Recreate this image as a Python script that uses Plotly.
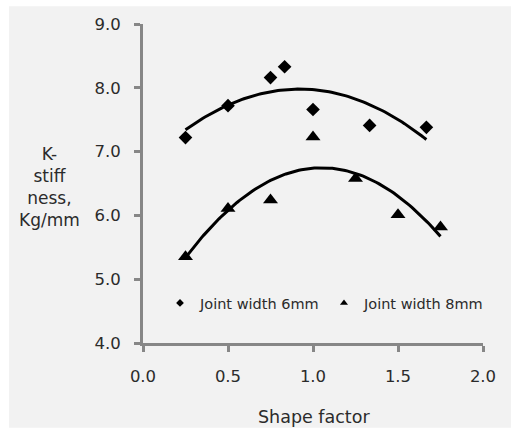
import numpy as np
import plotly.graph_objects as go

# Data
x_6mm = [0.25, 0.5, 0.75, 0.833, 1.0, 1.333, 1.667]
y_6mm = [7.22, 7.72, 8.16, 8.33, 7.66, 7.41, 7.38]
x_8mm = [0.25, 0.5, 0.75, 1.0, 1.25, 1.5, 1.75]
y_8mm = [5.35, 6.11, 6.24, 7.23, 6.58, 6.01, 5.82]
x_ticks = [0.0, 0.5, 1.0, 1.5, 2.0]
y_ticks = [4.0, 5.0, 6.0, 7.0, 8.0, 9.0]
series_names = ["Joint width 6mm", "Joint width 8mm"]

BG = "#f2f2f2"
AX = "#878787"
TXT = "#2b2b2b"
FONT = "DejaVu Sans"

fig = go.Figure()

# polynomial (order 2) trendlines, like the spreadsheet trendlines
for xs, ys in [(x_6mm, y_6mm), (x_8mm, y_8mm)]:
    c = np.polyfit(xs, ys, 2)
    xf = np.linspace(min(xs), max(xs), 100)
    fig.add_trace(go.Scatter(x=xf, y=np.polyval(c, xf), mode="lines",
                             line=dict(color="black", width=3), showlegend=False,
                             hoverinfo="skip"))

fig.add_trace(go.Scatter(x=x_6mm, y=y_6mm, mode="markers", showlegend=False,
                         marker=dict(symbol="diamond", size=10.5, color="black")))
fig.add_trace(go.Scatter(x=x_8mm, y=y_8mm, mode="markers", showlegend=False,
                         marker=dict(symbol="triangle-up", size=13, color="black")))

# legend entries with small markers
fig.add_trace(go.Scatter(x=[None], y=[None], mode="markers", name=series_names[0],
                         legend="legend",
                         marker=dict(symbol="diamond", size=6, color="black")))
fig.add_trace(go.Scatter(x=[None], y=[None], mode="markers", name=series_names[1],
                         legend="legend2",
                         marker=dict(symbol="triangle-up", size=7, color="black")))

leg = dict(yanchor="middle", xanchor="left", bgcolor="rgba(0,0,0,0)",
           font=dict(size=14.5, family=FONT, color=TXT), itemwidth=30)
fig.update_layout(
    width=511, height=430,
    margin=dict(l=143, r=28, t=24, b=87),
    paper_bgcolor="white", plot_bgcolor=BG,
    font=dict(family=FONT, size=14, color=TXT),
    legend=dict(leg, x=(160 - 143) / 340, y=(343 - 303) / 319),
    legend2=dict(leg, x=(324 - 143) / 340, y=(343 - 303) / 319),
    shapes=[dict(type="rect", xref="paper", yref="paper", x0=-0.394, x1=1.1,
                 y0=-0.266, y1=1.056, fillcolor=BG, line=dict(width=0), layer="below")],
    annotations=[
        dict(text="K-<br>stiff<br>ness,<br>Kg/mm", xref="paper", yref="paper",
             x=(49 - 143) / 340, y=(343 - 187) / 319, showarrow=False,
             font=dict(size=17, family=FONT, color=TXT), align="center",
             xanchor="center", yanchor="middle"),
        dict(text="Shape factor", xref="paper", yref="paper", x=(314 - 143) / 340,
             y=(343 - 417) / 319, showarrow=False, font=dict(size=17.5, family=FONT, color=TXT),
             xanchor="center", yanchor="middle"),
    ],
)
fig.update_xaxes(range=[0, 2], tickvals=x_ticks, ticktext=[f"{v:.1f}" for v in x_ticks],
                 showgrid=False, zeroline=False, showline=True, linecolor=AX, linewidth=3,
                 ticks="outside", ticklen=6, tickwidth=3, tickcolor=AX,
                 tickfont=dict(size=16.5, family=FONT, color=TXT), ticklabelstandoff=10)
fig.update_yaxes(range=[4, 9], tickvals=y_ticks, ticktext=[f"{v:.1f}" for v in y_ticks],
                 showgrid=False, zeroline=False, showline=True, linecolor=AX, linewidth=3,
                 ticks="outside", ticklen=6, tickwidth=3, tickcolor=AX,
                 tickfont=dict(size=16.5, family=FONT, color=TXT), ticklabelstandoff=10)

fig.write_html("out.html")
